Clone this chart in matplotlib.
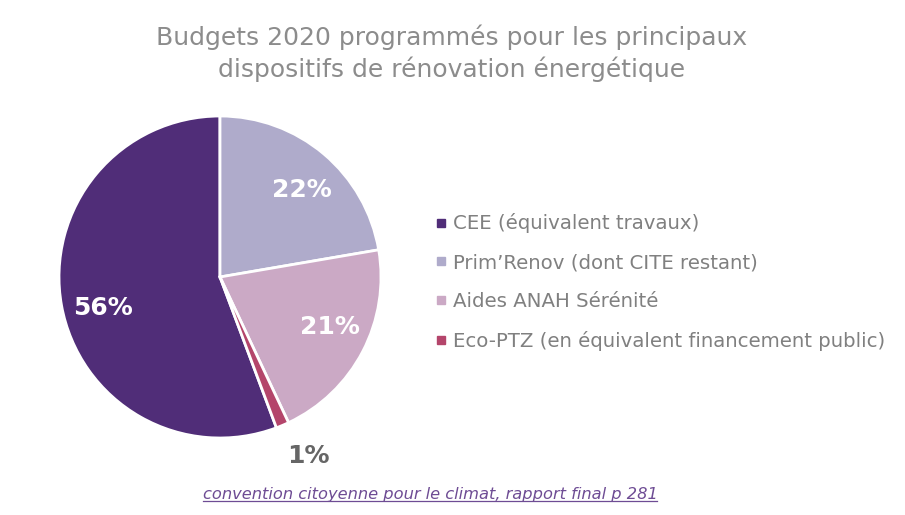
import matplotlib
matplotlib.use("Agg")
import matplotlib.pyplot as plt
from matplotlib.lines import Line2D
import numpy as np

categories = ["CEE (équivalent travaux)", "Prim’Renov (dont CITE restant)",
              "Aides ANAH Sérénité", "Eco-PTZ (en équivalent financement public)"]
values = [55.7, 22.3, 20.7, 1.3]
colors = ["#502D78", "#AFABCB", "#CBA9C5", "#B4456B"]
title = "Budgets 2020 programmés pour les principaux\ndispositifs de rénovation énergétique"
source = "convention citoyenne pour le climat, rapport final p 281"

W, H = 905, 515
fig = plt.figure(figsize=(W / 100, H / 100), dpi=100)
fig.patch.set_facecolor("white")

cx, cy, r = 220, 277, 161
ax = fig.add_axes([(cx - r) / W, (H - cy - r) / H, 2 * r / W, 2 * r / H])
total = sum(values)
start = 90 + 360 * values[0] / total
wedges, _ = ax.pie(values, colors=colors, startangle=start, counterclock=False,
                   wedgeprops=dict(edgecolor="white", linewidth=2))
ax.set_xlim(-1, 1)
ax.set_ylim(-1, 1)
ax.set_aspect("equal")
ax.axis("off")

# label placement (radius fraction, angular shift in degrees) per wedge
label_pos = [(0.75, 4.6), (0.74, -3.2), (0.75, 3.2), (1.24, 3.5)]
for w, v, (rr, shift) in zip(wedges, values, label_pos):
    mid = np.deg2rad((w.theta1 + w.theta2) / 2 + shift)
    label = f"{round(v / total * 100):d}%"
    outside = rr > 1
    ax.text(rr * np.cos(mid), rr * np.sin(mid), label, ha="center", va="center",
            color="#666666" if outside else "white", fontsize=18, fontweight="bold")

fig.text(452 / W, 1 - 53 / H, title, ha="center", va="center", color="#8C8C8C",
         fontsize=18, linespacing=1.32)

handles = [Line2D([], [], marker="s", linestyle="none", markersize=6,
                  markerfacecolor=c, markeredgecolor=c) for c in colors]
fig.legend(handles, categories, loc="center left", bbox_to_anchor=(425 / W, 1 - 282 / H),
           frameon=False, fontsize=14.2, labelcolor="#808080", handlelength=0.6,
           handletextpad=0.3, labelspacing=1.0, borderpad=0)

fig.text(430 / W, 1 - 494 / H, source, ha="center", va="center", color="#6E4C94",
         fontsize=11.7, style="italic")
# underline
fig.canvas.draw()
t = fig.texts[-1]
bb = t.get_window_extent()
fig.add_artist(Line2D([bb.x0 / W, bb.x1 / W], [(bb.y0 + 1) / H, (bb.y0 + 1) / H],
                      color="#6E4C94", linewidth=0.9, transform=fig.transFigure))

fig.savefig("out.png", dpi=100)
